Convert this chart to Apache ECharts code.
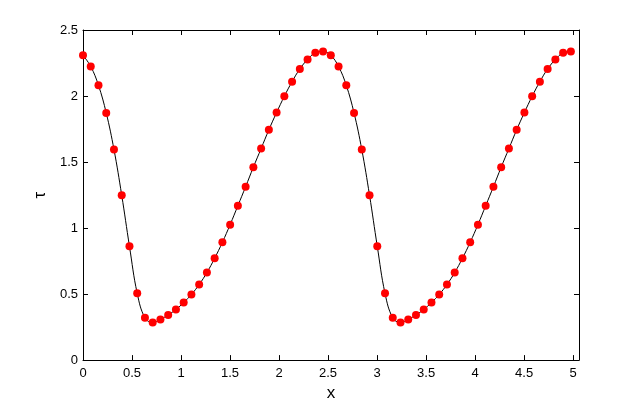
<!DOCTYPE html>
<html>
<head>
<meta charset="utf-8">
<script src="https://cdn.jsdelivr.net/npm/echarts@6/dist/echarts.min.js"></script>
<style>
  html, body { margin: 0; padding: 0; background: #fff; }
  #chart { width: 639px; height: 407px; }
</style>
</head>
<body>
<div id="chart"></div>
<script>
const xValues = [
  0, 0.079, 0.158, 0.237, 0.316, 0.395, 0.474, 0.553, 0.632, 0.711,
  0.79, 0.869, 0.948, 1.027, 1.106, 1.185, 1.264, 1.343, 1.422, 1.501,
  1.58, 1.659, 1.738, 1.817, 1.896, 1.975, 2.054, 2.133, 2.212, 2.291,
  2.37, 2.449, 2.528, 2.607, 2.686, 2.765, 2.844, 2.923, 3.002, 3.081,
  3.16, 3.239, 3.318, 3.397, 3.476, 3.555, 3.634, 3.713, 3.792, 3.871,
  3.95, 4.029, 4.108, 4.187, 4.266, 4.345, 4.424, 4.503, 4.582, 4.661,
  4.74, 4.819, 4.898, 4.977
]
const tauValues = [
  2.308, 2.224, 2.081, 1.872, 1.595, 1.249, 0.862, 0.506, 0.320, 0.285,
  0.308, 0.342, 0.383, 0.436, 0.497, 0.572, 0.663, 0.771, 0.892, 1.026,
  1.169, 1.313, 1.461, 1.602, 1.744, 1.875, 1.998, 2.109, 2.205, 2.277,
  2.328, 2.338,
  2.308, 2.224, 2.081, 1.872, 1.595, 1.249, 0.862, 0.506, 0.320, 0.285,
  0.308, 0.342, 0.383, 0.436, 0.497, 0.572, 0.663, 0.771, 0.892, 1.026,
  1.169, 1.313, 1.461, 1.602, 1.744, 1.875, 1.998, 2.109, 2.205, 2.277,
  2.328, 2.338
]
const xTicks = [0, 0.5, 1, 1.5, 2, 2.5, 3, 3.5, 4, 4.5, 5]

const points = xValues.map((x, i) => [x, tauValues[i]])
const font = 'Liberation Sans, Arial, sans-serif'

const axisLine = { show: true, onZero: false, lineStyle: { color: '#000', width: 1 } }
const innerTick = { show: true, inside: true, length: 5, lineStyle: { color: '#000' } }

const chart = echarts.init(document.getElementById('chart'))
chart.setOption({
  animation: false,
  grid: { left: 83, right: 60, top: 30, bottom: 46 },
  xAxis: [{
    type: 'value',
    position: 'bottom',
    min: 0,
    max: 5.06,
    interval: 0.5,
    name: 'x',
    nameLocation: 'middle',
    nameGap: 24,
    nameTextStyle: { fontFamily: font, fontSize: 17, color: '#000' },
    axisLine: axisLine,
    axisTick: innerTick,
    axisLabel: {
      fontFamily: font, fontSize: 13, color: '#000', margin: 7,
      showMaxLabel: false,
      formatter: v => (xTicks.indexOf(v) >= 0 ? String(v) : '')
    },
    splitLine: { show: false }
  }, {
    type: 'value',
    position: 'top',
    min: 0,
    max: 5.06,
    interval: 0.5,
    axisLine: axisLine,
    axisTick: innerTick,
    axisLabel: { show: false },
    splitLine: { show: false }
  }],
  yAxis: [{
    type: 'value',
    position: 'left',
    min: 0,
    max: 2.5,
    interval: 0.5,
    name: 'τ',
    nameLocation: 'middle',
    nameGap: 31,
    nameTextStyle: { fontFamily: font, fontSize: 17, color: '#000' },
    axisLine: axisLine,
    axisTick: innerTick,
    axisLabel: { fontFamily: font, fontSize: 13, color: '#000', margin: 5 },
    splitLine: { show: false }
  }, {
    type: 'value',
    position: 'right',
    min: 0,
    max: 2.5,
    interval: 0.5,
    axisLine: axisLine,
    axisTick: innerTick,
    axisLabel: { show: false },
    splitLine: { show: false }
  }],
  series: [{
    type: 'line',
    data: points,
    smooth: 0.4,
    showSymbol: false,
    symbol: 'none',
    lineStyle: { color: '#000', width: 1 },
    z: 2
  }, {
    type: 'scatter',
    data: points,
    symbol: 'circle',
    symbolSize: 8,
    itemStyle: { color: '#ff0000', opacity: 1 },
    z: 3
  }]
})
</script>
</body>
</html>
